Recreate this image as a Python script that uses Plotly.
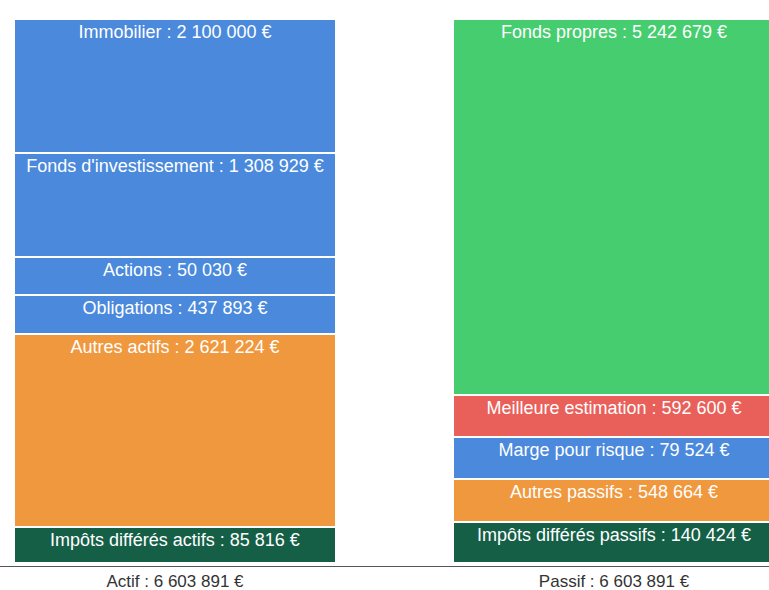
import plotly.graph_objects as go

# Actif (assets) segments, from top to bottom
actif_labels = ["Immobilier", "Fonds d'investissement", "Actions", "Obligations",
                "Autres actifs", "Impôts différés actifs"]
actif_values = [2100000, 1308929, 50030, 437893, 2621224, 85816]
actif_heights = [134, 104, 38, 39, 193, 36]  # displayed segment heights
actif_colors = ["#4A89DC", "#4A89DC", "#4A89DC", "#4A89DC", "#F0983E", "#155F47"]

# Passif (liabilities) segments, from top to bottom
passif_labels = ["Fonds propres", "Meilleure estimation", "Marge pour risque",
                 "Autres passifs", "Impôts différés passifs"]
passif_values = [5242679, 592600, 79524, 548664, 140424]
passif_heights = [376, 42, 42, 43, 41]
passif_colors = ["#46CD70", "#E9605A", "#4A89DC", "#F0983E", "#155F47"]

categories = [0, 1]
tick_labels = ["Actif : 6 603 891 €", "Passif : 6 603 891 €"]


def fmt(v):
    return f"{v:,}".replace(",", " ") + " €"


fig = go.Figure()

for xpos, labels, values, heights, colors in [
    (categories[0], actif_labels, actif_values, actif_heights, actif_colors),
    (categories[1], passif_labels, passif_values, passif_heights, passif_colors),
]:
    # stack from bottom to top
    for lab, val, h, col in reversed(list(zip(labels, values, heights, colors))):
        fig.add_trace(go.Bar(
            x=[xpos], y=[h], width=0.7335,
            marker=dict(color=col, line=dict(color="white", width=2)),
            text=[f"{lab} : {fmt(val)}"],
            textposition="inside", insidetextanchor="end",
            textangle=0, constraintext="none",
            textfont=dict(family="Liberation Sans, Arial, sans-serif", size=18, color="white"),
            hoverinfo="skip", showlegend=False,
        ))

fig.update_layout(
    width=769, height=590,
    margin=dict(l=0, r=0, t=19, b=24),
    barmode="stack",
    plot_bgcolor="white", paper_bgcolor="white",
    font=dict(family="Liberation Sans, Arial, sans-serif"),
    xaxis=dict(
        range=[-0.3986, 1.3531], tickvals=categories, ticktext=tick_labels,
        showline=True, linecolor="#555555", linewidth=1,
        showgrid=False, zeroline=False, ticks="", automargin=False,
        tickfont=dict(size=17, color="#333333"),
    ),
    yaxis=dict(range=[-3, 544], visible=False, showgrid=False, zeroline=False),
)

fig.write_html("out.html", config={"displayModeBar": False},
               post_script="document.body.style.margin='0px';")
